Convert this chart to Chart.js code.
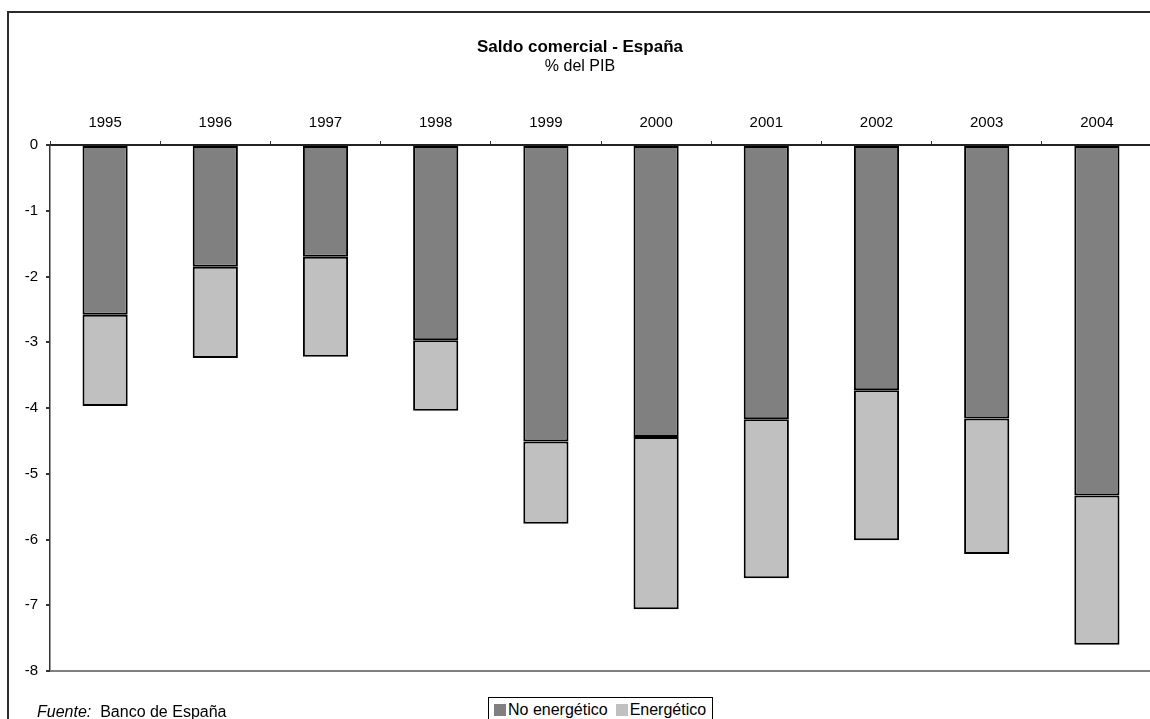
<!DOCTYPE html>
<html>
<head>
<meta charset="utf-8">
<script src="https://cdn.jsdelivr.net/npm/chart.js"></script>
<style>
  html, body { margin: 0; padding: 0; background: #fff; overflow: hidden; }
  body { width: 1150px; height: 719px; position: relative; font-family: 'Liberation Sans', Arial, sans-serif; }
  .frame {
    position: absolute; left: 7px; top: 11px; width: 1200px; height: 800px;
    border-left: 2px solid #2b2b2b; border-top: 2px solid #2b2b2b;
  }
  #chart { position: absolute; left: 0; top: 0; }
  .legend {
    position: absolute; left: 488px; top: 697px;
    border: 1px solid #000; background: #fff;
    padding: 4px 6px 8px 5px;
    display: flex; align-items: center;
    font-size: 16px; line-height: 16px; color: #000;
  }
  .legend .sw { width: 12px; height: 12px; display: inline-block; margin-right: 2px; }
  .legend .item { display: flex; align-items: center; margin-right: 8px; }
  .legend .item:last-child { margin-right: 0; }
  .fuente {
    position: absolute; left: 37px; top: 704px;
    font-size: 16px; line-height: 16px; color: #000;
  }
</style>
</head>
<body>
<div class="frame"></div>
<canvas id="chart" width="1160" height="719"></canvas>
<div class="legend">
  <span class="item"><span class="sw" style="background:#808080"></span>No energético</span>
  <span class="item"><span class="sw" style="background:#c0c0c0"></span>Energético</span>
</div>
<div class="fuente"><i>Fuente:</i>&nbsp; Banco de España</div>
<script>
// Saldo comercial España, % del PIB
const years = ['1995', '1996', '1997', '1998', '1999', '2000', '2001', '2002', '2003', '2004'];
const noEnergetico = [-2.58, -1.85, -1.70, -2.97, -4.51, -4.44, -4.17, -3.73, -4.16, -5.33];
const energetico = [-1.39, -1.39, -1.52, -1.07, -1.25, -2.62, -2.42, -2.28, -2.06, -2.27];

const FONT = "'Liberation Sans', Arial, sans-serif";

new Chart(document.getElementById('chart'), {
  type: 'bar',
  data: {
    labels: years,
    datasets: [
      {
        label: 'No energético',
        data: noEnergetico,
        backgroundColor: '#808080',
        borderColor: '#000',
        borderWidth: 2,
        borderSkipped: false,
        barPercentage: 0.41,
        categoryPercentage: 1
      },
      {
        label: 'Energético',
        data: energetico,
        backgroundColor: '#c0c0c0',
        borderColor: '#000',
        borderWidth: 2,
        borderSkipped: false,
        barPercentage: 0.41,
        categoryPercentage: 1
      }
    ]
  },
  options: {
    responsive: false,
    animation: false,
    layout: { padding: { top: 0, left: 8, right: 8, bottom: 48 } },
    plugins: {
      legend: { display: false },
      tooltip: { enabled: false },
      title: {
        display: true,
        text: 'Saldo comercial - España',
        color: '#000',
        font: { family: FONT, size: 17, weight: 'bold', lineHeight: 1.2 },
        padding: { top: 37, bottom: 0 }
      },
      subtitle: {
        display: true,
        text: '% del PIB',
        color: '#000',
        font: { family: FONT, size: 16, lineHeight: 1.2 },
        padding: { top: 0, bottom: 0 }
      }
    },
    scales: {
      x: {
        position: 'top',
        stacked: true,
        offset: true,
        afterFit: s => { s.height = 68.4; },
        grid: {
          offset: true,
          drawOnChartArea: false,
          drawTicks: true,
          tickLength: 4,
          color: '#333',
          tickColor: '#333'
        },
        border: { color: '#222', width: 2 },
        ticks: {
          color: '#000',
          padding: 9,
          font: { family: FONT, size: 15 }
        }
      },
      y: {
        stacked: true,
        min: -8,
        max: 0,
        afterFit: s => { s.width = 42; },
        grid: {
          drawTicks: true,
          tickLength: 4,
          tickColor: '#333',
          color: ctx => (ctx.tick && ctx.tick.value === -8) ? '#808080' : 'rgba(0,0,0,0)',
          lineWidth: 2
        },
        border: { color: '#333', width: 1.5 },
        ticks: {
          stepSize: 1,
          color: '#000',
          padding: 8,
          font: { family: FONT, size: 15 }
        }
      }
    }
  }
});
</script>
</body>
</html>
